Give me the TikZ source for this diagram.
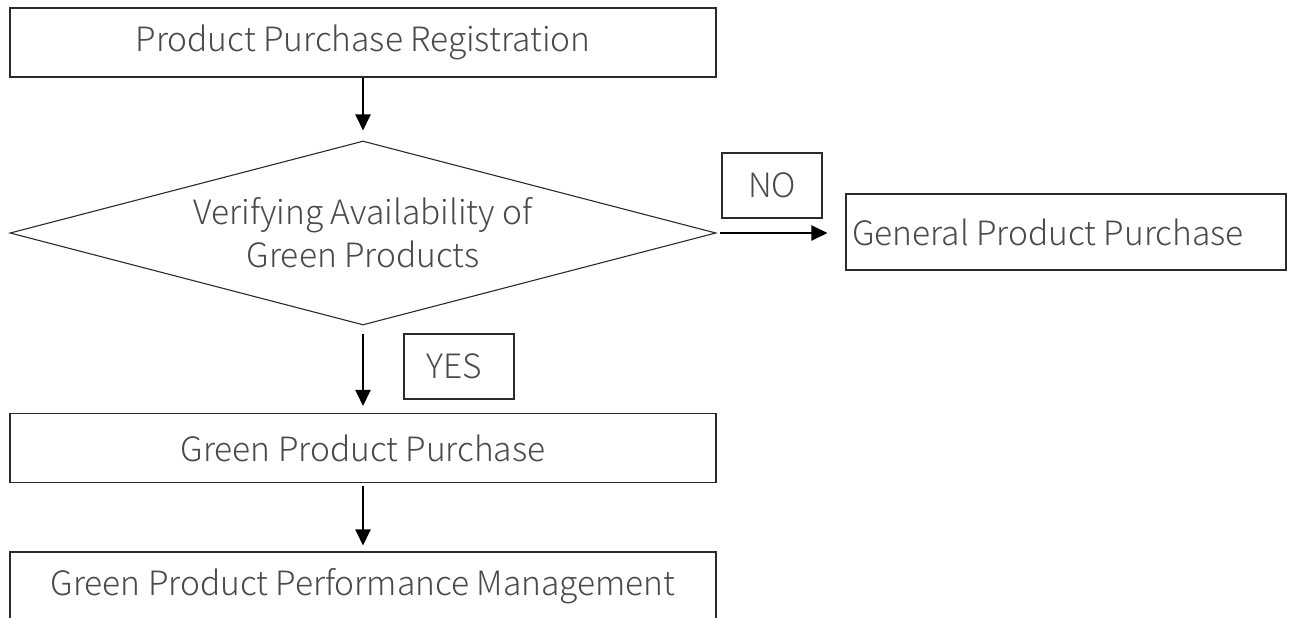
\documentclass[tikz,border=0pt]{standalone}
\usepackage{fontspec}
\setmainfont{Noto Sans CJK KR}[UprightFont=* Light]
\usetikzlibrary{arrows.meta,shapes.geometric}

\definecolor{inkline}{HTML}{2B2B2B}
\definecolor{inktext}{HTML}{4A4A4A}

\tikzset{
  stepbox/.style={draw=inkline, line width=1.1pt, rectangle, inner sep=0pt,
    minimum width=706pt, minimum height=69pt, text=inktext,
    font=\fontsize{33.5}{43}\selectfont},
  tagbox/.style={draw=inkline, line width=1.1pt, rectangle, inner sep=0pt,
    text=inktext, font=\fontsize{33.5}{43}\selectfont},
  decision/.style={draw=inkline, line width=1.1pt, diamond, inner sep=0pt,
    minimum width=706pt, minimum height=184pt, aspect=3.84, text=inktext,
    align=center, font=\fontsize{33.5}{43}\selectfont},
  flow/.style={draw=black, line width=2.4pt,
    -{Triangle[width=15pt,length=16pt]}}
}

\begin{document}
\begin{tikzpicture}[x=1pt,y=-1pt]
\useasboundingbox (0,0) rectangle (1293,618);
\fill[white] (0,0) rectangle (1293,618);
\clip (0,0) rectangle (1293,618);

% main column
\node[stepbox] (reg) at (363,42.5) {Product Purchase Registration};
\node[decision] (check) at (363,233) {Verifying Availability of\\Green Products};
\node[stepbox] (green) at (363,448) {Green Product Purchase};
\node[stepbox] (perf) at (363,586.5) {Green Product Performance Management};

% side branch, text set flush left
\node[tagbox, minimum width=440pt, minimum height=76pt] (general) at (1066,232)
  {\makebox[428pt][l]{General Product Purchase}};

% branch labels
\node[tagbox, minimum width=100pt, minimum height=65pt] (no) at (772,185.5) {NO};
\node[tagbox, minimum width=110pt, minimum height=65pt] (yes) at (459,366.5)
  {\makebox[0pt]{\hspace*{-10pt}YES}};

% connectors
\draw[flow, shorten >=10pt] (reg.south) -- (check.north);
\draw[flow, shorten <=8pt, shorten >=7pt] (check.south) -- (green.north);
\draw[flow, shorten <=3pt, shorten >=6pt] (green.south) -- (perf.north);
\draw[flow, shorten <=3pt, shorten >=18pt] (check.east) -- (general.west |- check.east);
\end{tikzpicture}
\end{document}
